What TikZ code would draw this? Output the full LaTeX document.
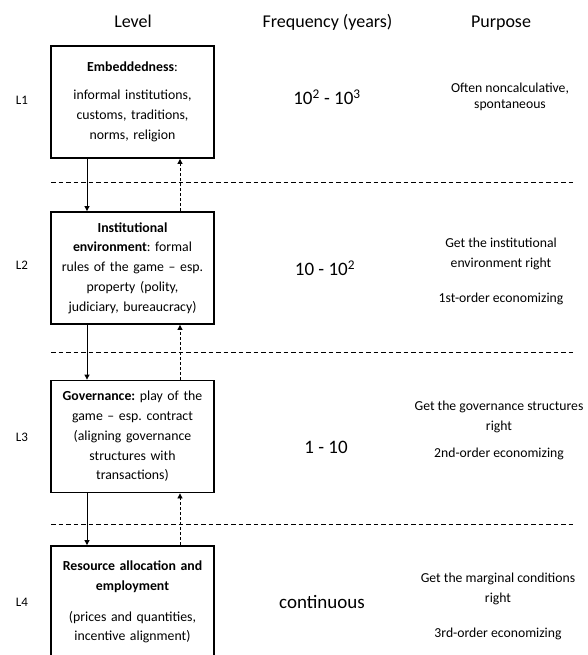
\documentclass[tikz,border=0pt]{standalone}
\usepackage{fontspec}
\setmainfont{Carlito}
\frenchspacing
\usetikzlibrary{arrows.meta}
\begin{document}
\begin{tikzpicture}[x=1pt,y=-1pt,
  levelbox/.style={draw, line width=1.8pt, minimum width=163pt, minimum height=112pt,
    text width=158pt, align=center, inner sep=0pt, font=\fontsize{13.8}{19.8}\selectfont},
  hdr/.style={anchor=base, font=\fontsize{18}{20}\selectfont},
  freq/.style={font=\fontsize{19}{22}\selectfont},
  purp/.style={align=center, font=\fontsize{13.7}{20}\selectfont},
  lab/.style={font=\fontsize{13}{15}\selectfont},
  downarr/.style={line width=0.8pt, -{Triangle[length=5pt,width=5pt]}},
  uparr/.style={line width=0.8pt, dash pattern=on 3pt off 2pt, -{Triangle[length=5pt,width=5pt]}},
  sep/.style={line width=0.8pt, dash pattern=on 4.5pt off 3pt}]
\useasboundingbox (0,0) rectangle (587,655);
\clip (0,0) rectangle (587,655);
% headers
\node[hdr] (hlevel) at (133,27.5) {Level};
\node[hdr] (hfreq) at (327.5,27.5) {Frequency (years)};
\node[hdr] (hpurp) at (501,27.5) {Purpose};
% level labels
\node[lab] (l1) at (22,100) {L1};
\node[lab] (l2) at (22,265) {L2};
\node[lab] (l3) at (22,437) {L3};
\node[lab] (l4) at (22,602) {L4};
% boxes
\node[levelbox] (b1) at (132.5,102) {\textbf{Embeddedness}:\\[8pt] informal institutions,\\ customs, traditions,\\ norms, religion};
\node[levelbox] (b2) at (132.5,268) {\textbf{Institutional}\\ \textbf{environment}: formal\\ rules of the game – esp.\\ property (polity,\\ judiciary, bureaucracy)};
\node[levelbox] (b3) at (132.5,436.5) {\textbf{Governance:} play of the\\ game – esp. contract\\ (aligning governance\\ structures with\\ transactions)};
\node[levelbox] (b4) at (132.5,602) {\textbf{Resource allocation and}\\ \textbf{employment}\\[11pt] (prices and quantities,\\ incentive alignment)};
% separators
\draw[sep] (51,182) -- (575,182);
\draw[sep] (51,352) -- (575,352);
\draw[sep] (51,524) -- (575,524);
% arrows
\draw[downarr] ([xshift=-45.5pt]b1.south) -- ([xshift=-45.5pt]b2.north);
\draw[uparr] ([xshift=47.5pt]b2.north) -- ([xshift=47.5pt]b1.south);
\draw[downarr] ([xshift=-45.5pt]b2.south) -- ([xshift=-45.5pt]b3.north);
\draw[uparr] ([xshift=47.5pt]b3.north) -- ([xshift=47.5pt]b2.south);
\draw[downarr] ([xshift=-45.5pt]b3.south) -- ([xshift=-45.5pt]b4.north);
\draw[uparr] ([xshift=47.5pt]b4.north) -- ([xshift=47.5pt]b3.south);
% frequencies
\node[freq] (f1) at (327,97) {10\textsuperscript{2} - 10\textsuperscript{3}};
\node[freq] (f2) at (325,268) {10 - 10\textsuperscript{2}};
\node[freq] (f3) at (326,447) {1 - 10};
\node[freq] (f4) at (322,602) {continuous};
% purposes
\node[purp, font=\fontsize{13.7}{16}\selectfont] (p1) at (510,97) {Often noncalculative,\\ spontaneous};
\node[purp] (p2) at (501,271) {Get the institutional\\ environment right\\[15pt] 1st-order economizing};
\node[purp] (p3) at (499,430) {Get the governance structures\\ right\\[7pt] 2nd-order economizing};
\node[purp] (p4) at (498,606) {Get the marginal conditions\\ right\\[15pt] 3rd-order economizing};
\end{tikzpicture}
\end{document}
